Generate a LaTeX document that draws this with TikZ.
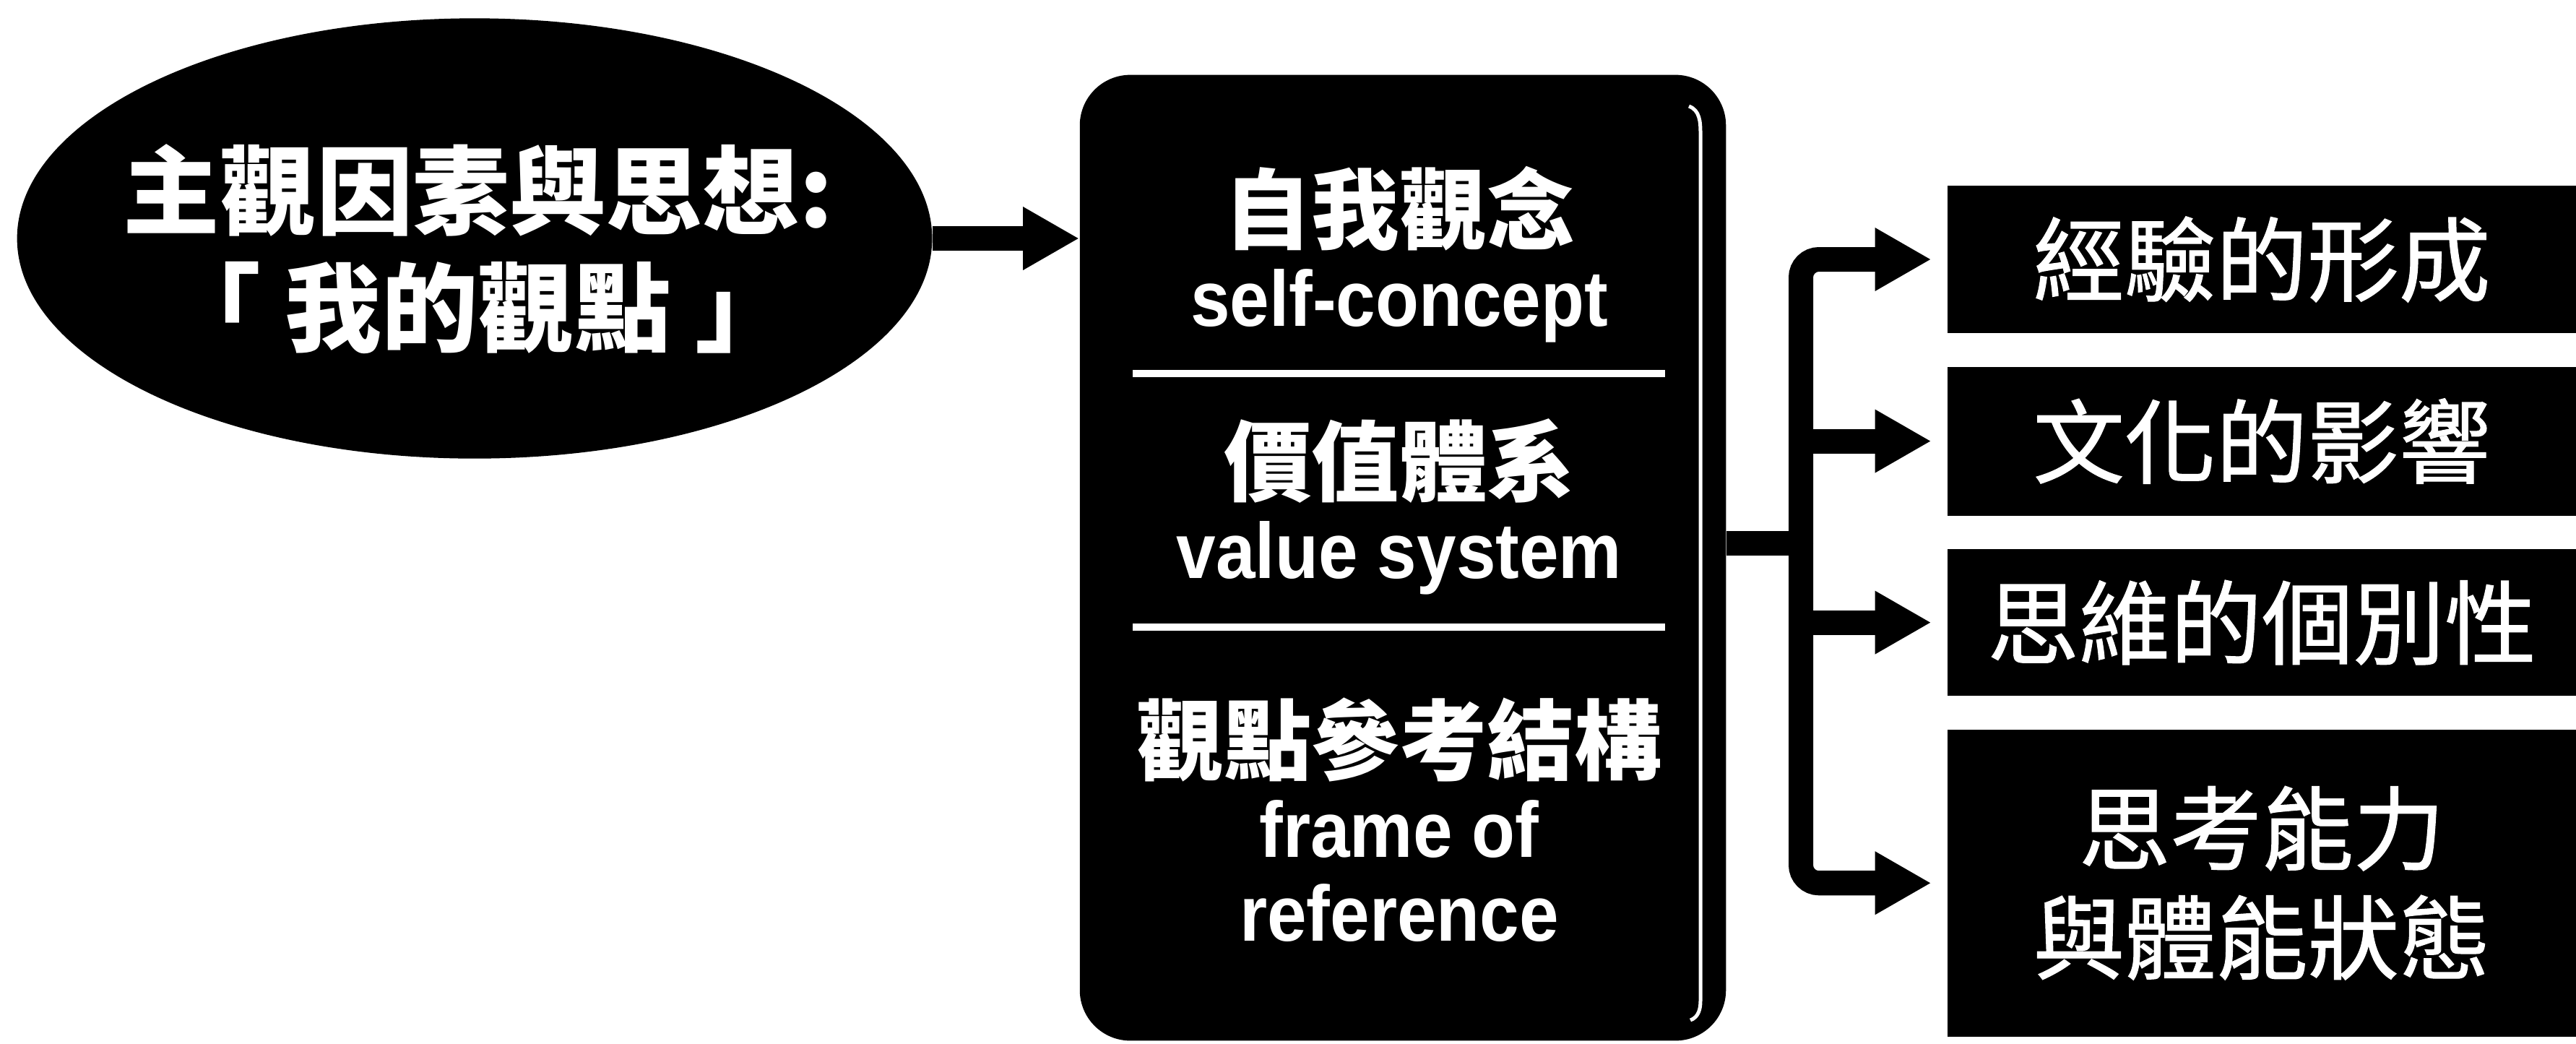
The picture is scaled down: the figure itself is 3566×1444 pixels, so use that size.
\documentclass[tikz,border=0pt]{standalone}
\usepackage{fontspec}
\setmainfont{Liberation Sans}[FakeStretch=0.9]
\newfontfamily\zh{Noto Sans CJK TC}
\newfontfamily\zhcaja{Noto Sans CJK TC}[FakeBold=1]
\usepackage{pgf,tikz}
\newcommand{\titzh}[1]{{\zh\fontsize{34.5}{33}\selectfont #1}}
\usetikzlibrary{shapes, arrows.meta, positioning, calc}
\tikzstyle{elipse} = [ellipse, fill=black, inner sep=0pt, minimum width=12.66cm, minimum height=6.09cm]
\tikzstyle{lema} = [text=white, align=center, inner sep=0pt, font=\zh\bfseries\fontsize{38}{46}\selectfont]
\tikzstyle{marco} = [rectangle, fill=black, rounded corners=0.7cm, minimum width=8.94cm, minimum height=13.36cm]
\tikzstyle{seccion} = [text=white, align=center, inner sep=0pt, font=\bfseries\fontsize{31}{33}\selectfont]
\tikzstyle{caja} = [rectangle, fill=black, text=white, inner sep=0pt, minimum width=8.69cm, align=center, font=\zhcaja\fontsize{36}{43}\selectfont]
\tikzstyle{flecha} = [line width=0.34cm, -{Triangle[length=0.78cm, width=0.82cm]}]
\tikzstyle{divisor} = [white, line width=0.1cm]

\begin{document}
\begin{tikzpicture}[x=0.01cm, y=-0.01cm]
	\useasboundingbox (0,0) rectangle (3566,1444);
	\node[elipse] (yo) at (657,330) {};
	\node[lema] (titulo) at (662,345) {主觀因素與思想:\\「\hspace{0.25em}我的觀點\hspace{0.25em}」};
	\node[marco] (marco) at (1942,772) {};
	\draw[white, line width=0.05cm] (2338,147) to[out=-20,in=90] (2354,185) -- (2354,1385) to[out=-90,in=20] (2340,1412);
	\draw[divisor] (1568,517) -- (2305,517);
	\draw[divisor] (1568,868) -- (2305,868);
	\node[seccion] (propio) at (1937,352) {\titzh{自我觀念}\\self-concept};
	\node[seccion] (valor) at (1937,701) {\titzh{價值體系}\\value system};
	\node[seccion] (refer) at (1937,1135) {\titzh{觀點參考結構}\\frame of\\reference};
	% cajas de la derecha
	\node[caja, minimum height=2.04cm] (exp) at (3131,359) {經驗的形成};
	\node[caja, minimum height=2.06cm, below=0.45cm of exp] (cult) {文化的影響};
	\node[caja, minimum height=2.03cm, below=0.45cm of cult] (indiv) {思維的個別性};
	\node[caja, minimum height=4.25cm, below=0.45cm of indiv] (capac) {思考能力\\與體能狀態};
	% flechas
	\coordinate (bus) at (2493,752);
	\draw[flecha] (yo.east) -- (marco.west |- yo.east);
	\draw[line width=0.34cm] (marco.east |- bus) -- (bus);
	\draw[flecha, rounded corners=0.25cm, shorten >=0.22cm] (bus) |- (exp.west);
	\draw[flecha, rounded corners=0.25cm, shorten >=0.22cm] (bus) |- (capac.west);
	\draw[flecha, shorten >=0.22cm] (bus |- cult.west) -- (cult.west);
	\draw[flecha, shorten >=0.22cm] (bus |- indiv.west) -- (indiv.west);
\end{tikzpicture}
\end{document}
